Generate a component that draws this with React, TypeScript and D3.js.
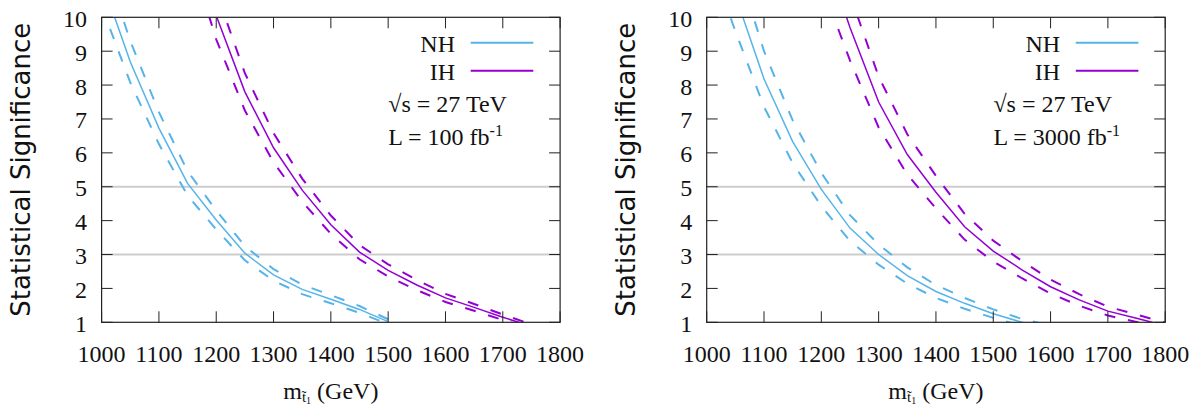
import React from "react";
import * as d3 from "d3";

// ---------- data ----------
const X_TICKS = [1000, 1100, 1200, 1300, 1400, 1500, 1600, 1700, 1800];
const Y_TICKS = [1, 2, 3, 4, 5, 6, 7, 8, 9, 10];
const REF_LEVELS = [3, 5];
const LEGEND_LABELS = ["NH", "IH"];

// Left panel: L = 100 fb^-1
const M_NH_100 = [1000, 1050, 1100, 1150, 1200, 1250, 1300, 1350, 1400, 1450, 1500];
const NH_100 = [11.1, 8.69, 6.73, 5.1, 4.02, 3.04, 2.4, 1.97, 1.68, 1.38, 1.02];
const NH_100_UP = [11.88, 9.3, 7.2, 5.46, 4.3, 3.25, 2.57, 2.11, 1.8, 1.48, 1.09];
const NH_100_LO = [10.32, 8.08, 6.26, 4.74, 3.74, 2.83, 2.23, 1.83, 1.56, 1.28, 0.95];

const M_IH_100 = [1150, 1200, 1250, 1300, 1350, 1400, 1450, 1500, 1550, 1600, 1650, 1700, 1750];
const IH_100 = [13.0, 10.05, 7.8, 6.15, 4.9, 3.88, 3.07, 2.53, 2.1, 1.72, 1.44, 1.15, 0.88];
const IH_100_UP = [13.91, 10.75, 8.35, 6.58, 5.24, 4.15, 3.28, 2.71, 2.25, 1.84, 1.54, 1.23, 0.94];
const IH_100_LO = [12.09, 9.35, 7.25, 5.72, 4.56, 3.61, 2.86, 2.35, 1.95, 1.6, 1.34, 1.07, 0.82];

// Right panel: L = 3000 fb^-1
const M_NH_3000 = [1000, 1050, 1100, 1150, 1200, 1250, 1300, 1350, 1400, 1450, 1500, 1550, 1600];
const NH_3000 = [13.3, 10.65, 8.18, 6.33, 4.92, 3.78, 3.0, 2.38, 1.91, 1.56, 1.25, 1.0, 0.8];
const NH_3000_UP = [14.63, 11.72, 9.0, 6.96, 5.41, 4.16, 3.3, 2.62, 2.1, 1.72, 1.38, 1.1, 0.9];
const NH_3000_LO = [11.97, 9.59, 7.36, 5.7, 4.43, 3.4, 2.7, 2.14, 1.72, 1.4, 1.13, 0.9, 0.72];

const M_IH_3000 = [1200, 1250, 1300, 1350, 1400, 1450, 1500, 1550, 1600, 1650, 1700, 1750, 1800];
const IH_3000 = [12.2, 9.7, 7.5, 5.95, 4.84, 3.82, 3.1, 2.55, 2.05, 1.66, 1.33, 1.12, 0.9];
const IH_3000_UP = [13.42, 10.67, 8.25, 6.55, 5.32, 4.2, 3.41, 2.81, 2.26, 1.83, 1.46, 1.23, 0.99];
const IH_3000_LO = [10.98, 8.73, 6.75, 5.36, 4.36, 3.44, 2.79, 2.3, 1.85, 1.49, 1.2, 1.01, 0.81];

// ---------- styles ----------
const NH_COLOR = "#56b4e9";
const IH_COLOR = "#9400d3";
const SERIF = "'Liberation Serif', 'Times New Roman', serif";
const SANS = "'DejaVu Sans', sans-serif";

const W = 458.5;
const H = 305;
const xScale = d3.scaleLinear().domain([1000, 1800]).range([0, W]);
const yScale = d3.scaleLinear().domain([1, 10]).range([H, 0]);

type Pt = { m: number; s: number };
const zip = (ms: number[], ss: number[]): Pt[] => ms.map((m, i) => ({ m, s: ss[i] }));
const lineGen = d3
  .line<Pt>()
  .x((d) => xScale(d.m))
  .y((d) => yScale(d.s));

type PanelProps = {
  id: string;
  ox: number;
  oy: number;
  lumi: string;
  series: { color: string; m: number[]; c: number[]; up: number[]; lo: number[] }[];
};

function Panel({ id, ox, oy, lumi, series }: PanelProps) {
  const tickLen = 11;
  return (
    <g transform={`translate(${ox},${oy})`}>
      <defs>
        <clipPath id={`clip-${id}`}>
          <rect x={0} y={0} width={W} height={H} />
        </clipPath>
      </defs>
      {/* reference lines */}
      {REF_LEVELS.map((v) => (
        <line key={v} x1={0} x2={W} y1={yScale(v)} y2={yScale(v)} stroke="#cdcdcd" strokeWidth={2} />
      ))}
      {/* curves */}
      <g clipPath={`url(#clip-${id})`}>
        {series.map((s, i) => (
          <g key={i}>
            <path d={lineGen(zip(s.m, s.up)) || ""} fill="none" stroke={s.color} strokeWidth={2} strokeDasharray="11,13" />
            <path d={lineGen(zip(s.m, s.lo)) || ""} fill="none" stroke={s.color} strokeWidth={2} strokeDasharray="11,13" />
            <path d={lineGen(zip(s.m, s.c)) || ""} fill="none" stroke={s.color} strokeWidth={1.5} />
          </g>
        ))}
      </g>
      {/* frame */}
      <rect x={0} y={0} width={W} height={H} fill="none" stroke="#222" strokeWidth={1.2} />
      {/* ticks */}
      {X_TICKS.map((t) => (
        <g key={`x${t}`}>
          <line x1={xScale(t)} x2={xScale(t)} y1={H} y2={H - tickLen} stroke="#222" strokeWidth={1} />
          <line x1={xScale(t)} x2={xScale(t)} y1={0} y2={tickLen} stroke="#222" strokeWidth={1} />
          <text x={xScale(t)} y={H + 40} textAnchor="middle" fontFamily={SERIF} fontSize={24} fill="#111">
            {t}
          </text>
        </g>
      ))}
      {Y_TICKS.map((t) => (
        <g key={`y${t}`}>
          <line x1={0} x2={tickLen} y1={yScale(t)} y2={yScale(t)} stroke="#222" strokeWidth={1} />
          <line x1={W} x2={W - tickLen} y1={yScale(t)} y2={yScale(t)} stroke="#222" strokeWidth={1} />
          <text x={-14.5} y={yScale(t) + 9.5} textAnchor="end" fontFamily={SERIF} fontSize={24} fill="#111">
            {t}
          </text>
        </g>
      ))}
      {/* axis titles */}
      <text x={W / 2} y={382} textAnchor="middle" fontFamily={SERIF} fontSize={24} fill="#111">
        m<tspan fontSize={15} dy={3}>{"t\u0303"}</tspan>
        <tspan fontSize={10} dy={1.5}>1</tspan>
        <tspan fontSize={24} dy={-4.5}>{" (GeV)"}</tspan>
      </text>
      <text
        transform={`translate(${-71.6},${H / 2}) rotate(-90)`}
        textAnchor="middle"
        fontFamily={SANS}
        fontSize={26}
        fill="#111"
      >
        Statistical Significance
      </text>
      {/* legend */}
      {LEGEND_LABELS.map((lab, i) => (
        <g key={lab}>
          <text x={353.4} y={34.4 + i * 28} textAnchor="end" fontFamily={SERIF} fontSize={24} fill="#111">
            {lab}
          </text>
          <line
            x1={369.1}
            x2={431.7}
            y1={25.4 + i * 28}
            y2={25.4 + i * 28}
            stroke={series[i].color}
            strokeWidth={2}
          />
        </g>
      ))}
      <text x={286.7} y={94.4} fontFamily={SERIF} fontSize={24} fill="#111">
        {"\u221As = 27 TeV"}
      </text>
      <text x={286.7} y={127.7} fontFamily={SERIF} fontSize={24} fill="#111">
        {`L = ${lumi} fb`}
        <tspan fontSize={16} dy={-9}>
          -1
        </tspan>
      </text>
    </g>
  );
}

export default function App() {
  return (
    <div style={{ position: "absolute", left: 0, top: 0 }}>
      <svg width={1199} height={409} style={{ display: "block", background: "#fff" }}>
        <Panel
          id="l"
          ox={101.6}
          oy={17.3}
          lumi="100"
          series={[
            { color: NH_COLOR, m: M_NH_100, c: NH_100, up: NH_100_UP, lo: NH_100_LO },
            { color: IH_COLOR, m: M_IH_100, c: IH_100, up: IH_100_UP, lo: IH_100_LO },
          ]}
        />
        <Panel
          id="r"
          ox={706.7}
          oy={17.3}
          lumi="3000"
          series={[
            { color: NH_COLOR, m: M_NH_3000, c: NH_3000, up: NH_3000_UP, lo: NH_3000_LO },
            { color: IH_COLOR, m: M_IH_3000, c: IH_3000, up: IH_3000_UP, lo: IH_3000_LO },
          ]}
        />
      </svg>
    </div>
  );
}
